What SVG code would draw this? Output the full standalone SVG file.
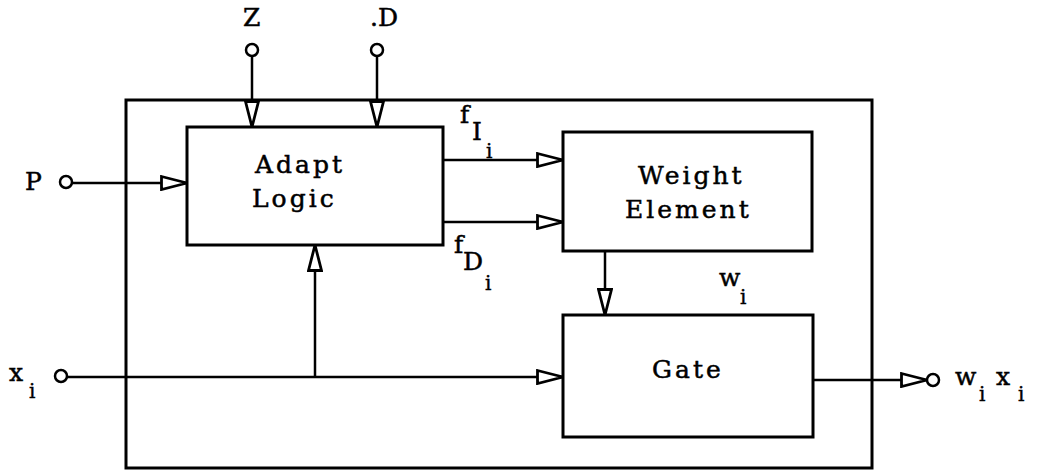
<svg xmlns="http://www.w3.org/2000/svg" width="1037" height="474" viewBox="0 0 1037 474">
<style>
.box{fill:none;stroke:#000;stroke-width:3}
.ln{fill:none;stroke:#000;stroke-width:2.5}
.term{fill:#fff;stroke:#000;stroke-width:2.5}
.t{font-family:"DejaVu Serif",serif;font-size:25px;fill:#000;stroke:#000;stroke-width:0.5;letter-spacing:3px}
.s{font-family:"DejaVu Serif",serif;font-size:25px;fill:#000;stroke:#000;stroke-width:0.5}
.sub{font-family:"DejaVu Serif",serif;font-size:20px;fill:#000;stroke:#000;stroke-width:0.4}
</style>
<defs>
<marker id="ah" viewBox="0 0 28 16" refX="27" refY="8" markerWidth="28" markerHeight="16" markerUnits="userSpaceOnUse" orient="auto">
<path d="M1.5,1.5 L27,8 L1.5,14.5 Z" fill="#fff" stroke="#000" stroke-width="2.8"/>
</marker>
</defs>
<rect id="outer" class="box" x="126" y="100" width="746" height="368"/>
<g id="adapt">
<rect class="box" x="187" y="127" width="256" height="118"/>
<text class="t" x="255" y="173">Adapt</text>
<text class="t" x="252" y="207">Logic</text>
</g>
<g id="weight">
<rect class="box" x="563" y="132" width="249" height="119"/>
<text class="t" x="638" y="184">Weight</text>
<text class="t" x="625" y="218">Element</text>
</g>
<g id="gate">
<rect class="box" x="563" y="315" width="250" height="122"/>
<text class="t" x="652" y="378">Gate</text>
</g>
<g id="termZ">
<circle class="term" cx="252" cy="50" r="6"/>
<text class="s" x="243" y="26">Z</text>
</g>
<g id="termD">
<circle class="term" cx="377" cy="50" r="6"/>
<text class="s" x="370" y="26">.D</text>
</g>
<g id="termP">
<circle class="term" cx="66" cy="182" r="6"/>
<text class="s" x="25" y="190">P</text>
</g>
<g id="termX">
<circle class="term" cx="61" cy="376" r="6"/>
<text class="s" x="9" y="381">x</text>
<text class="sub" x="29" y="398">i</text>
</g>
<g id="termOut">
<circle class="term" cx="933" cy="380" r="6"/>
<text class="s" x="955" y="385">w</text>
<text class="sub" x="979" y="401">i</text>
<text class="s" x="996" y="385">x</text>
<text class="sub" x="1018" y="401">i</text>
</g>
<g id="labels">
<text class="s" x="460" y="123">f</text>
<text class="s" x="472" y="140">I</text>
<text class="sub" x="486" y="158">i</text>
<text class="s" x="454" y="253">f</text>
<text class="s" x="463" y="270">D</text>
<text class="sub" x="485" y="290">i</text>
<text class="s" x="719" y="286">w</text>
<text class="sub" x="740" y="304">i</text>
</g>
<g id="connectors">
<line class="ln" x1="252" y1="56" x2="252" y2="127" marker-end="url(#ah)"/>
<line class="ln" x1="377" y1="56" x2="377" y2="127" marker-end="url(#ah)"/>
<line class="ln" x1="72" y1="183" x2="187" y2="183" marker-end="url(#ah)"/>
<line class="ln" x1="443" y1="160" x2="563" y2="160" marker-end="url(#ah)"/>
<line class="ln" x1="443" y1="222" x2="563" y2="222" marker-end="url(#ah)"/>
<line class="ln" x1="605" y1="251" x2="605" y2="315" marker-end="url(#ah)"/>
<line class="ln" x1="67" y1="377" x2="563" y2="377" marker-end="url(#ah)"/>
<line class="ln" x1="315" y1="377" x2="315" y2="245" marker-end="url(#ah)"/>
<line class="ln" x1="813" y1="380" x2="927" y2="380" marker-end="url(#ah)"/>
</g>
</svg>
